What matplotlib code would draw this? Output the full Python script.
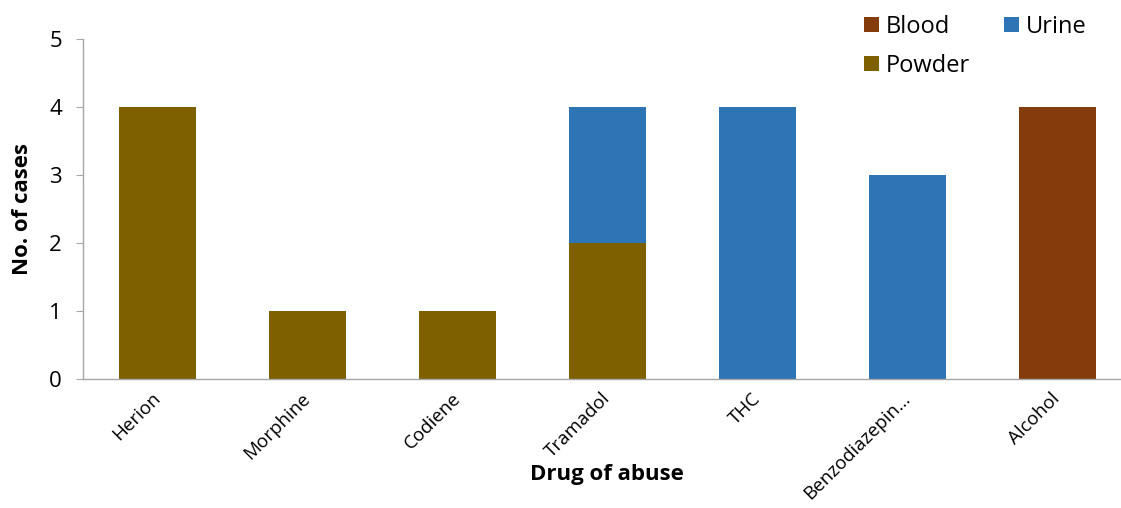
import matplotlib
matplotlib.use("Agg")
import matplotlib.pyplot as plt
import numpy as np

plt.rcParams['font.family'] = ['Open Sans', 'DejaVu Sans']

drugs = ["Herion", "Morphine", "Codiene", "Tramadol", "THC", "Benzodiazepin\u2026", "Alcohol"]
powder = [4, 1, 1, 2, 0, 0, 0]
urine = [0, 0, 0, 2, 4, 3, 0]
blood = [0, 0, 0, 0, 0, 0, 4]
y_ticks = [0, 1, 2, 3, 4, 5]

c_powder = "#7F6000"
c_urine = "#2E75B6"
c_blood = "#843C0C"

fig = plt.figure(figsize=(11.21, 5.08), dpi=100)
ax = fig.add_axes([0.074, 0.254, 0.925, 0.669])

x = np.arange(len(drugs))
w = 0.514
powder_a = np.array(powder)
urine_a = np.array(urine)
blood_a = np.array(blood)
h_p = ax.bar(x, powder_a, w, color=c_powder, label="Powder")
h_u = ax.bar(x, urine_a, w, bottom=powder_a, color=c_urine, label="Urine")
h_b = ax.bar(x, blood_a, w, bottom=powder_a + urine_a, color=c_blood, label="Blood")

ax.set_xlim(-0.5, 6.418)
ax.set_ylim(0, 5)
ax.set_yticks(y_ticks)
ax.tick_params(axis='y', length=5, color="#a6a6a6", labelsize=16, pad=10)
ax.tick_params(axis='x', length=0, labelsize=13.5, pad=12)
ax.set_xticks(x)
ax.set_xticklabels(drugs, rotation=45, ha='right', va='center', rotation_mode='anchor')

for s in ["top", "right"]:
    ax.spines[s].set_visible(False)
for s in ["left", "bottom"]:
    ax.spines[s].set_color("#a6a6a6")
    ax.spines[s].set_linewidth(1)

ax.set_ylabel("No. of cases", fontsize=16, fontweight='bold', labelpad=12)
ax.set_xlabel("Drug of abuse", fontsize=16, fontweight='bold')
ax.xaxis.set_label_coords(0.505, -0.25)

fig.legend([h_b, h_p, h_u], ["Blood", "Powder", "Urine"], ncol=2,
           loc='upper left', bbox_to_anchor=(0.752, 1.012), frameon=False,
           fontsize=17, handlelength=0.62, handleheight=0.62,
           handletextpad=0.3, columnspacing=1.45, labelspacing=0.62)

fig.savefig("out.png", dpi=100)
